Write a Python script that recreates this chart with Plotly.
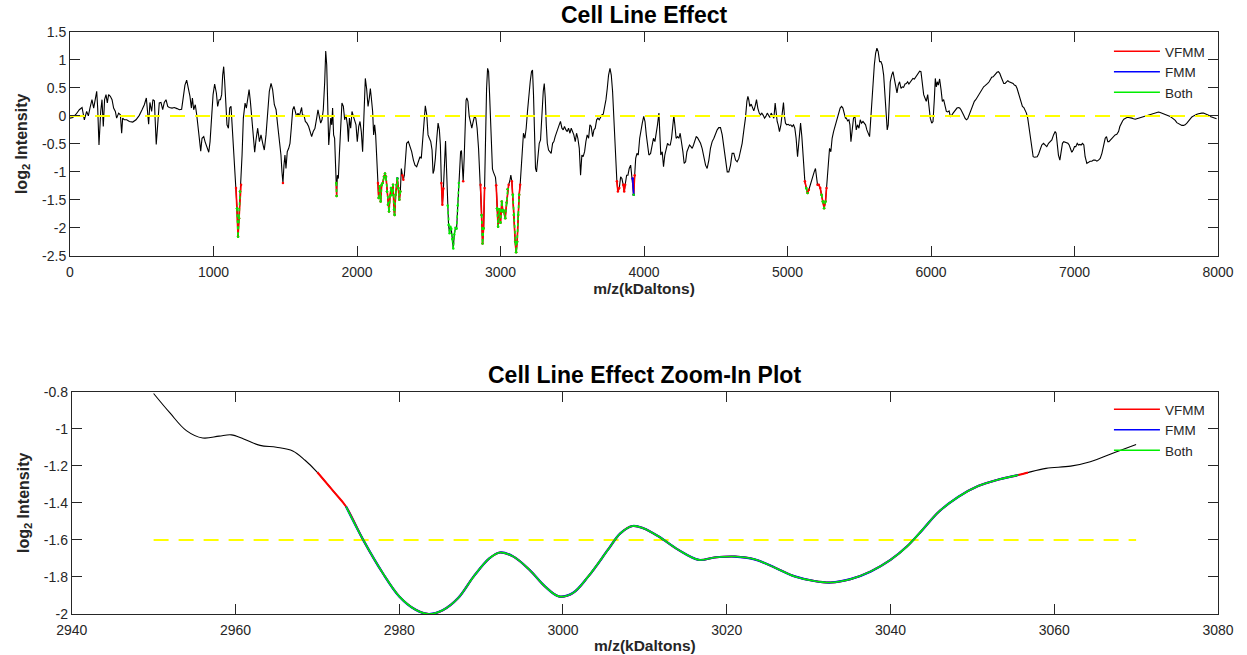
import plotly.graph_objects as go

# ---------------- data: full spectrum (top panel) ----------------
mz = [0, 19, 42, 65, 84, 100, 116, 128, 139, 153, 165, 177, 186, 193, 202, 214, 223, 232, 241, 251,
      260, 269, 281, 293, 304, 316, 325, 339, 351, 360, 367, 379, 395, 414, 437, 460, 483, 502, 518, 532,
      541, 548, 557, 569, 578, 588, 594, 601, 611, 622, 634, 646, 657, 669, 681, 692, 711, 727, 746, 762,
      778, 790, 801, 813, 825, 836, 846, 853, 862, 873, 883, 892, 901, 911, 920, 932, 941, 950, 960, 967,
      976, 985, 997, 1008, 1020, 1029, 1039, 1048, 1057, 1064, 1071, 1078, 1085, 1094, 1104, 1113, 1122, 1131, 1141, 1150,
      1157, 1164, 1171, 1178, 1185, 1192, 1199, 1208, 1220, 1229, 1239, 1248, 1257, 1266, 1278, 1287, 1296, 1308, 1320, 1331,
      1343, 1354, 1366, 1378, 1389, 1401, 1412, 1424, 1436, 1447, 1459, 1470, 1477, 1484, 1491, 1498, 1505, 1514, 1524, 1533,
      1542, 1552, 1561, 1570, 1579, 1589, 1598, 1607, 1614, 1621, 1630, 1640, 1651, 1663, 1675, 1684, 1695, 1707, 1719, 1728,
      1737, 1747, 1756, 1765, 1775, 1782, 1789, 1796, 1803, 1810, 1817, 1824, 1830, 1837, 1844, 1851, 1856, 1858, 1863, 1870,
      1877, 1886, 1895, 1905, 1914, 1923, 1933, 1940, 1947, 1956, 1965, 1975, 1984, 1993, 2002, 2012, 2021, 2030, 2039, 2049,
      2058, 2067, 2077, 2086, 2093, 2100, 2109, 2116, 2123, 2130, 2137, 2146, 2151, 2158, 2165, 2172, 2179, 2188, 2195, 2202,
      2209, 2216, 2223, 2230, 2237, 2244, 2251, 2258, 2262, 2269, 2276, 2281, 2288, 2295, 2302, 2309, 2316, 2323, 2330, 2337,
      2346, 2358, 2369, 2381, 2393, 2404, 2416, 2427, 2439, 2448, 2458, 2467, 2476, 2486, 2495, 2504, 2514, 2523, 2530, 2537,
      2546, 2556, 2565, 2574, 2581, 2588, 2595, 2602, 2609, 2617, 2624, 2632, 2638, 2645, 2651, 2657, 2664, 2671, 2678, 2686,
      2694, 2702, 2710, 2717, 2722, 2728, 2734, 2740, 2747, 2754, 2760, 2765, 2773, 2782, 2791, 2800, 2810, 2819, 2828, 2837,
      2847, 2854, 2861, 2868, 2875, 2882, 2889, 2896, 2903, 2910, 2917, 2924, 2931, 2938, 2944, 2950, 2958, 2965, 2970, 2976,
      2983, 2992, 3000, 3009, 3017, 3022, 3033, 3043, 3050, 3057, 3065, 3072, 3079, 3086, 3093, 3102, 3109, 3116, 3123, 3130,
      3137, 3144, 3151, 3160, 3170, 3179, 3188, 3198, 3207, 3216, 3223, 3230, 3237, 3244, 3251, 3260, 3270, 3279, 3288, 3298,
      3305, 3312, 3319, 3326, 3335, 3344, 3353, 3363, 3372, 3381, 3391, 3400, 3409, 3418, 3428, 3437, 3446, 3456, 3465, 3474,
      3484, 3493, 3502, 3511, 3521, 3530, 3539, 3549, 3558, 3567, 3576, 3586, 3595, 3604, 3614, 3623, 3632, 3642, 3651, 3660,
      3670, 3679, 3688, 3697, 3707, 3716, 3726, 3735, 3744, 3753, 3763, 3772, 3781, 3790, 3797, 3804, 3811, 3818, 3828, 3837,
      3846, 3855, 3862, 3869, 3879, 3888, 3897, 3907, 3914, 3921, 3928, 3935, 3942, 3951, 3960, 3970, 3979, 3988, 3998, 4007,
      4016, 4025, 4034, 4046, 4057, 4066, 4076, 4085, 4094, 4104, 4111, 4117, 4127, 4136, 4145, 4155, 4164, 4173, 4183, 4192,
      4201, 4208, 4215, 4224, 4234, 4243, 4252, 4262, 4271, 4280, 4290, 4299, 4308, 4317, 4327, 4336, 4345, 4355, 4364, 4373,
      4383, 4394, 4405, 4417, 4429, 4440, 4452, 4463, 4475, 4487, 4498, 4510, 4521, 4533, 4545, 4556, 4568, 4580, 4591, 4603,
      4614, 4626, 4638, 4649, 4661, 4672, 4684, 4696, 4707, 4717, 4724, 4730, 4737, 4747, 4756, 4765, 4775, 4784, 4793, 4803,
      4812, 4821, 4831, 4840, 4849, 4859, 4868, 4877, 4886, 4896, 4905, 4914, 4921, 4928, 4935, 4944, 4954, 4963, 4972, 4979,
      4986, 4995, 5005, 5014, 5023, 5032, 5042, 5051, 5060, 5070, 5079, 5091, 5100, 5107, 5114, 5121, 5130, 5140, 5149, 5158,
      5167, 5177, 5186, 5195, 5202, 5209, 5218, 5228, 5237, 5246, 5255, 5265, 5272, 5279, 5286, 5293, 5302, 5311, 5321, 5330,
      5339, 5349, 5358, 5367, 5377, 5386, 5395, 5404, 5410, 5419, 5428, 5435, 5442, 5451, 5460, 5470, 5479, 5488, 5498, 5507,
      5516, 5526, 5535, 5544, 5553, 5563, 5572, 5579, 5586, 5595, 5605, 5614, 5623, 5632, 5642, 5651, 5660, 5670, 5679, 5688,
      5695, 5702, 5709, 5716, 5726, 5735, 5744, 5753, 5763, 5772, 5781, 5791, 5800, 5809, 5819, 5828, 5837, 5846, 5856, 5865,
      5874, 5884, 5893, 5902, 5912, 5921, 5930, 5939, 5949, 5958, 5967, 5977, 5986, 5995, 6005, 6014, 6023, 6030, 6037, 6044,
      6051, 6060, 6070, 6079, 6088, 6098, 6107, 6116, 6126, 6135, 6144, 6154, 6163, 6172, 6181, 6191, 6200, 6209, 6219, 6228,
      6237, 6247, 6256, 6265, 6274, 6284, 6293, 6302, 6312, 6321, 6330, 6340, 6349, 6358, 6367, 6377, 6386, 6395, 6405, 6414,
      6423, 6433, 6442, 6451, 6460, 6470, 6479, 6488, 6498, 6507, 6516, 6526, 6535, 6544, 6553, 6563, 6572, 6581, 6591, 6600,
      6609, 6619, 6628, 6637, 6647, 6656, 6665, 6674, 6684, 6693, 6702, 6712, 6721, 6730, 6740, 6750, 6761, 6772, 6784, 6795,
      6807, 6819, 6830, 6842, 6854, 6865, 6872, 6879, 6888, 6898, 6907, 6916, 6925, 6935, 6944, 6954, 6963, 6972, 6981, 6991,
      7000, 7009, 7019, 7028, 7037, 7046, 7056, 7065, 7074, 7086, 7098, 7109, 7121, 7132, 7144, 7156, 7167, 7179, 7191, 7202,
      7214, 7223, 7232, 7240, 7251, 7260, 7272, 7283, 7295, 7307, 7316, 7325, 7335, 7344, 7353, 7365, 7376, 7388, 7400, 7411,
      7423, 7434, 7446, 7458, 7469, 7481, 7492, 7504, 7516, 7527, 7539, 7551, 7562, 7574, 7585, 7597, 7609, 7620, 7632, 7644,
      7655, 7667, 7678, 7690, 7702, 7713, 7725, 7737, 7748, 7760, 7771, 7783, 7795, 7806, 7818, 7830, 7841, 7853, 7864, 7876,
      7887, 7899, 7911, 7922, 7934, 7946, 7957, 7969, 7980, 7990]

log2_intensity = [-0.04, -0.03, 0.03, 0.11, 0.15, -0.07, 0.08, 0.0, 0.14, 0.29, 0.14, 0.32, 0.44, 0.14, -0.52, 0.08, 0.29, -0.19, 0.29, 0.38,
      0.23, 0.38, 0.35, 0.29, 0.14, 0.08, -0.04, 0.05, 0.02, -0.31, -0.04, -0.07, -0.07, -0.10, -0.11, -0.07, 0.01, 0.11, 0.20, 0.32,
      -0.01, -0.15, 0.24, 0.08, 0.29, 0.27, -0.10, -0.51, -0.16, 0.23, 0.24, 0.11, 0.24, 0.29, 0.17, 0.15, 0.14, 0.15, 0.13, 0.11,
      0.12, 0.38, 0.55, 0.64, 0.49, 0.35, 0.14, 0.32, 0.11, 0.20, 0.02, -0.16, -0.40, -0.63, -0.40, -0.37, -0.46, -0.52, -0.58, -0.65,
      -0.46, -0.04, 0.38, 0.57, 0.41, 0.17, 0.29, 0.29, 0.38, 0.73, 0.88, 0.61, 0.14, -0.16, -0.22, 0.14, 0.17, -0.22, -0.58, -0.82,
      -1.29, -1.65, -2.16, -1.83, -1.35, -1.23, -0.70, -0.04, 0.23, 0.14, 0.29, 0.47, 0.26, -0.04, -0.40, -0.65, -0.43, -0.22, -0.46, -0.34,
      -0.49, -0.61, -0.34, 0.08, 0.44, 0.58, 0.47, 0.20, 0.11, -0.16, -0.40, -0.70, -1.00, -1.20, -0.88, -0.70, -0.94, -0.64, -0.58, -0.49,
      -0.22, 0.11, 0.17, 0.05, -0.01, 0.05, -0.01, 0.08, 0.15, -0.01, 0.02, -0.10, -0.13, -0.19, -0.31, -0.37, -0.28, -0.22, -0.04, 0.11,
      -0.01, -0.13, -0.07, 0.11, 0.61, 1.16, 0.91, 0.08, -0.52, -0.28, -0.04, -0.16, 0.14, -0.34, -0.40, -0.91, -1.20, -1.43, -1.06, -1.12,
      -0.70, -0.10, 0.23, 0.17, -0.07, 0.02, -0.16, -0.46, -0.04, -0.22, 0.08, -0.01, -0.07, -0.16, -0.46, -0.19, -0.10, -0.28, -0.64, 0.02,
      0.67, 0.49, 0.17, 0.32, 0.49, 0.32, 0.08, -0.34, -0.16, -0.34, -0.82, -1.20, -1.47, -1.26, -1.53, -1.23, -1.20, -1.09, -1.03, -1.09,
      -1.35, -1.59, -1.71, -1.44, -1.29, -1.41, -1.23, -1.68, -1.77, -1.41, -1.23, -1.12, -1.29, -1.50, -1.35, -0.94, -1.06, -1.14, -1.06, -0.70,
      -0.49, -0.46, -0.55, -0.64, -0.79, -0.88, -0.91, -0.82, -0.73, -0.76, -0.40, 0.02, 0.18, 0.02, -0.34, -0.40, -0.46, -0.61, -1.03, -0.97,
      -0.76, -0.40, -0.13, -0.25, -0.52, -1.20, -1.59, -1.30, -0.90, -0.45, -0.95, -1.60, -1.95, -2.10, -1.98, -2.02, -2.20, -2.37, -2.12, -2.00,
      -2.02, -1.60, -1.20, -0.80, -0.64, -0.62, -0.84, -1.17, -0.75, -0.05, 0.28, 0.32, 0.26, -0.01, -0.13, -0.22, -0.10, -0.01, -0.04, -0.22,
      -0.58, -0.94, -1.23, -1.77, -2.28, -2.01, -1.29, -0.22, 0.49, 0.85, 0.79, 0.38, -0.22, -0.70, -0.95, -1.00, -1.04, -1.10, -1.24, -1.65,
      -1.98, -1.67, -1.91, -1.53, -1.71, -1.69, -1.83, -1.55, -1.31, -1.23, -1.16, -1.06, -1.17, -1.41, -1.77, -2.25, -2.44, -2.25, -1.77, -1.41,
      -1.23, -0.94, -0.58, -0.31, -0.40, -0.22, 0.08, 0.44, 0.61, 0.79, 0.82, 0.38, -0.28, -0.94, -1.00, -0.70, -0.49, -0.43, 0.08, 0.44,
      0.58, 0.32, -0.16, -0.49, -0.61, -0.64, -0.67, -0.49, -0.46, -0.37, -0.28, -0.22, -0.16, -0.10, -0.22, -0.25, -0.19, -0.25, -0.28, -0.22,
      -0.31, -0.22, -0.28, -0.34, -0.46, -0.31, -0.40, -0.58, -1.06, -0.70, -0.73, -0.64, -0.46, -0.34, -0.40, -0.16, -0.19, -0.37, -0.25, -0.22,
      -0.07, -0.04, -0.07, -0.01, 0.02, 0.03, 0.14, 0.29, 0.49, 0.73, 0.85, 0.73, 0.44, -0.04, -0.52, -0.94, -1.17, -1.35, -1.29, -1.09,
      -1.12, -1.23, -1.35, -1.23, -1.06, -1.06, -0.94, -0.88, -1.06, -1.12, -1.41, -1.06, -0.76, -0.67, -0.70, -0.40, -0.22, -0.13, -0.01, -0.10,
      -0.34, -0.58, -0.70, -0.67, -0.49, -0.40, -0.46, -0.34, -0.16, 0.05, -0.28, -0.70, -0.64, -0.91, -0.70, -0.58, -0.49, -0.52, -0.52, -0.40,
      -0.22, 0.01, -0.16, -0.40, -0.37, -0.40, -0.31, -0.46, -0.64, -0.85, -0.82, -0.64, -0.58, -0.52, -0.55, -0.58, -0.52, -0.43, -0.37, -0.39,
      -0.43, -0.49, -0.58, -0.73, -0.88, -0.94, -0.79, -0.58, -0.46, -0.40, -0.31, -0.25, -0.21, -0.21, -0.34, -0.55, -0.79, -1.00, -1.00, -0.88,
      -0.67, -0.67, -0.79, -0.82, -0.76, -0.64, -0.49, -0.25, -0.04, 0.26, 0.35, 0.29, 0.17, 0.21, 0.14, 0.09, 0.18, 0.29, 0.14, 0.05,
      0.02, 0.05, 0.01, -0.04, -0.01, 0.05, 0.01, -0.03, 0.05, 0.01, -0.04, 0.23, 0.01, -0.10, -0.16, -0.28, -0.16, 0.02, 0.24, -0.01,
      -0.13, -0.16, -0.15, -0.17, -0.16, -0.19, -0.16, -0.22, -0.40, -0.73, -0.43, -0.13, -0.37, -0.64, -1.03, -1.17, -1.29, -1.38, -1.32, -1.23,
      -1.17, -1.09, -1.00, -0.94, -1.12, -1.23, -1.23, -1.29, -1.41, -1.53, -1.65, -1.53, -1.29, -0.94, -0.70, -0.58, -0.64, -0.40, -0.28, -0.19,
      -0.13, -0.04, 0.05, 0.14, 0.17, 0.14, 0.05, -0.04, -0.04, -0.09, -0.07, -0.16, -0.46, -0.22, -0.04, -0.01, -0.25, -0.16, -0.22, -0.07,
      -0.13, -0.10, -0.13, -0.16, -0.25, -0.31, -0.37, -0.10, 0.20, 0.55, 0.91, 1.12, 1.21, 1.15, 0.97, 0.97, 0.91, 0.73, 0.38, 0.02,
      -0.25, -0.16, 0.38, 0.61, 0.73, 0.79, 0.67, 0.55, 0.41, 0.55, 0.61, 0.49, 0.52, 0.51, 0.57, 0.58, 0.61, 0.57, 0.61, 0.64,
      0.67, 0.66, 0.70, 0.73, 0.78, 0.80, 0.79, 0.61, 0.38, 0.32, 0.26, 0.38, 0.20, -0.04, -0.13, -0.10, 0.29, 0.67, 0.52, 0.61,
      0.55, 0.66, 0.47, 0.26, 0.29, 0.17, 0.08, 0.07, 0.09, -0.01, 0.01, 0.05, 0.08, 0.11, 0.14, 0.15, 0.14, 0.11, 0.07, 0.01,
      -0.04, -0.07, -0.05, 0.01, 0.08, 0.15, 0.21, 0.26, 0.29, 0.33, 0.38, 0.41, 0.45, 0.49, 0.52, 0.54, 0.57, 0.58, 0.61, 0.66,
      0.69, 0.70, 0.73, 0.76, 0.78, 0.79, 0.76, 0.70, 0.64, 0.58, 0.58, 0.61, 0.63, 0.61, 0.60, 0.60, 0.58, 0.55, 0.54, 0.49,
      0.41, 0.32, 0.23, 0.17, 0.15, 0.11, 0.05, -0.04, -0.22, -0.46, -0.64, -0.73, -0.74, -0.74, -0.73, -0.68, -0.58, -0.52, -0.49, -0.52,
      -0.55, -0.49, -0.46, -0.43, -0.34, -0.28, -0.31, -0.46, -0.70, -0.79, -0.64, -0.49, -0.46, -0.47, -0.47, -0.49, -0.52, -0.59, -0.65, -0.61,
      -0.55, -0.55, -0.49, -0.52, -0.51, -0.52, -0.49, -0.52, -0.73, -0.85, -0.82, -0.81, -0.81, -0.79, -0.79, -0.81, -0.79, -0.76, -0.67, -0.55,
      -0.40, -0.37, -0.46, -0.46, -0.43, -0.40, -0.37, -0.34, -0.33, -0.28, -0.19, -0.13, -0.09, -0.06, -0.04, -0.03, -0.03, -0.03, -0.04, -0.05,
      -0.06, -0.05, -0.04, -0.03, -0.02, -0.01, -0.01, 0.01, 0.02, 0.03, 0.04, 0.05, 0.05, 0.06, 0.07, 0.06, 0.05, 0.04, 0.03, 0.02,
      0.01, -0.01, -0.03, -0.05, -0.08, -0.12, -0.14, -0.16, -0.17, -0.17, -0.16, -0.13, -0.09, -0.05, -0.02, 0.00, 0.02, 0.03, 0.04, 0.05,
      0.05, 0.05, 0.04, 0.03, 0.01, -0.01, -0.02, -0.03, -0.04, -0.05]

# m/z ranges flagged by each method (top panel)
vfmm_ranges = [(1155, 1195), (1482, 1486), (1854, 1860), (2144, 2302), (2316, 2325), (2586, 2604),
               (2738, 2742), (2859, 2890), (2968, 3057), (3077, 3139), (3811, 3828), (3855, 3869),
               (3921, 3935), (5119, 5150), (5207, 5274)]
fmm_ranges = [(2279, 2283), (3919, 3930)]
both_ranges = [(1162, 1188), (1856, 1860), (2149, 2302), (2630, 2712), (2866, 2886), (2975, 3050),
               (3084, 3132), (3926, 3932), (5130, 5145), (5235, 5268)]
threshold_full = 0.0

# ---------------- data: zoom-in (bottom panel) ----------------
mz_zoom = [2950, 2952, 2954, 2956, 2958, 2959.5, 2961, 2963, 2965, 2967, 2968.5, 2970, 2972, 2973.5, 2975.6,
           2978, 2980, 2982, 2983.6, 2985.3, 2987.2, 2989.1, 2991, 2992.3, 2993.9, 2995.9, 2997.8, 2999.5,
           3001.2, 3003.1, 3005.5, 3007, 3008.5, 3009.8, 3011.7, 3014.1, 3016.6, 3018.5, 3021, 3023.4, 3025.9,
           3028.3, 3030.7, 3032.7, 3035.1, 3037.6, 3040, 3042, 3043.9, 3045.9, 3048.3, 3050.7, 3053.2, 3055.6,
           3056.8, 3059, 3062, 3064.4, 3067.3, 3070]
log2_zoom = [-0.81, -0.915, -1.01, -1.05, -1.04, -1.033, -1.055, -1.09, -1.10, -1.12, -1.17, -1.235, -1.34, -1.42, -1.60,
             -1.78, -1.905, -1.977, -2.0, -1.98, -1.914, -1.797, -1.70, -1.668, -1.689, -1.761, -1.851, -1.905,
             -1.887, -1.797, -1.653, -1.565, -1.525, -1.537, -1.582, -1.654, -1.708, -1.695, -1.690, -1.705, -1.750,
             -1.797, -1.822, -1.830, -1.812, -1.770, -1.708, -1.636, -1.546, -1.448, -1.367, -1.309, -1.274, -1.250,
             -1.236, -1.214, -1.202, -1.178, -1.130, -1.085]
vfmm_zoom_ranges = [(2970, 3056.8)]
fmm_zoom_ranges = [(2973.5, 3055.6)]
both_zoom_ranges = [(2973.5, 3055.6)]
threshold_zoom = -1.6

# tick labels
x_full_ticks = [0, 1000, 2000, 3000, 4000, 5000, 6000, 7000, 8000]
y_full_ticks = [1.5, 1, 0.5, 0, -0.5, -1, -1.5, -2, -2.5]
y_full_labels = ["1.5", "1", "0.5", "0", "-0.5", "-1", "-1.5", "-2", "-2.5"]
x_zoom_ticks = [2940, 2960, 2980, 3000, 3020, 3040, 3060, 3080]
y_zoom_ticks = [-0.8, -1, -1.2, -1.4, -1.6, -1.8, -2]
y_zoom_labels = ["-0.8", "-1", "-1.2", "-1.4", "-1.6", "-1.8", "-2"]

COL = {"VFMM": "#ff0000", "FMM": "#0000ff", "Both": "#00ee00"}
FONT = "Liberation Sans, Arial, Helvetica, sans-serif"
AXC = "#262626"


def segments(xs, ys, ranges):
    """Return x/y with None breaks containing the points inside each range."""
    ox, oy = [], []
    for lo, hi in ranges:
        for x, y in zip(xs, ys):
            if lo <= x <= hi:
                ox.append(x)
                oy.append(y)
        ox.append(None)
        oy.append(None)
    return ox, oy


fig = go.Figure()

# ---- top panel ----
fig.add_trace(go.Scatter(x=mz, y=log2_intensity, mode="lines", line=dict(color="black", width=1.1),
                         showlegend=False, hoverinfo="skip", xaxis="x", yaxis="y"))
fig.add_trace(go.Scatter(x=[0, 8000], y=[threshold_full, threshold_full], mode="lines",
                         line=dict(color="#ffff00", width=2, dash="15px,10px"),
                         showlegend=False, hoverinfo="skip", xaxis="x", yaxis="y"))
for name, rng, dash in (("VFMM", vfmm_ranges, "solid"), ("FMM", fmm_ranges, "solid"), ("Both", both_ranges, "dot")):
    sx, sy = segments(mz, log2_intensity, rng)
    fig.add_trace(go.Scatter(x=sx, y=sy, mode="lines+markers", connectgaps=False,
                             line=dict(color=COL[name], width=1.6, dash=dash),
                             marker=dict(color=COL[name], size=2.5),
                             showlegend=False, xaxis="x", yaxis="y"))
for name in ("VFMM", "FMM", "Both"):
    fig.add_trace(go.Scatter(x=[None], y=[None], mode="lines", name=name,
                             line=dict(color=COL[name], width=1.5), legend="legend",
                             xaxis="x", yaxis="y"))

# ---- bottom panel ----
fig.add_trace(go.Scatter(x=mz_zoom, y=log2_zoom, mode="lines", line=dict(color="black", width=1.1, shape="spline"),
                         showlegend=False, hoverinfo="skip", xaxis="x2", yaxis="y2"))
fig.add_trace(go.Scatter(x=[mz_zoom[0], mz_zoom[-1]], y=[threshold_zoom, threshold_zoom], mode="lines",
                         line=dict(color="#ffff00", width=2, dash="15px,10px"),
                         showlegend=False, hoverinfo="skip", xaxis="x2", yaxis="y2"))
for name, rng, w in (("VFMM", vfmm_zoom_ranges, 2.0), ("FMM", fmm_zoom_ranges, 2.2), ("Both", both_zoom_ranges, 1.6)):
    sx, sy = segments(mz_zoom, log2_zoom, rng)
    fig.add_trace(go.Scatter(x=sx, y=sy, mode="lines", line=dict(color=COL[name], width=w, shape="spline"),
                             showlegend=False, xaxis="x2", yaxis="y2"))
for name in ("VFMM", "FMM", "Both"):
    fig.add_trace(go.Scatter(x=[None], y=[None], mode="lines", name=name,
                             line=dict(color=COL[name], width=1.5), legend="legend2",
                             xaxis="x2", yaxis="y2"))

axis_common = dict(showline=True, linecolor=AXC, linewidth=1, mirror="allticks", ticks="inside",
                   ticklen=10, tickcolor=AXC, tickwidth=1, showgrid=False, zeroline=False,
                   automargin=False, tickfont=dict(family=FONT, size=14, color=AXC))
xaxis_extra = dict(ticklabelstandoff=3)
xtitle_font = dict(family=FONT, size=15.5, color=AXC)
ytitle_font = dict(family=FONT, size=16, color=AXC)

fig.update_layout(
    width=1247, height=655,
    margin=dict(l=70, r=29, t=32, b=41, autoexpand=False),
    paper_bgcolor="white", plot_bgcolor="white",
    font=dict(family=FONT, color=AXC),
    xaxis=dict(domain=[0, 1], range=[0, 8000], tickvals=x_full_ticks, anchor="y",
               title=dict(text="<b>m/z(kDaltons)</b>", font=xtitle_font, standoff=3), **axis_common, **xaxis_extra),
    yaxis=dict(domain=[0.6156, 1], range=[-2.5, 1.5], tickvals=y_full_ticks, ticktext=y_full_labels, anchor="x",
               title=dict(text="<b>log<sub>2</sub> Intensity</b>", font=ytitle_font, standoff=10), **axis_common),
    xaxis2=dict(domain=[0.0015, 1], range=[2940, 3080], tickvals=x_zoom_ticks, anchor="y2",
                title=dict(text="<b>m/z(kDaltons)</b>", font=xtitle_font, standoff=3), **axis_common, **xaxis_extra),
    yaxis2=dict(domain=[0, 0.382], range=[-2, -0.8], tickvals=y_zoom_ticks, ticktext=y_zoom_labels, anchor="x2",
                title=dict(text="<b>log<sub>2</sub> Intensity</b>", font=ytitle_font, standoff=10), **axis_common),
    legend=dict(x=0.905, xanchor="left", y=0.9313, yanchor="middle", bgcolor="rgba(0,0,0,0)",
                font=dict(family=FONT, size=13.5, color=AXC), tracegroupgap=0, itemwidth=46),
    legend2=dict(x=0.905, xanchor="left", y=0.3162, yanchor="middle", bgcolor="rgba(0,0,0,0)",
                 font=dict(family=FONT, size=13.5, color=AXC), tracegroupgap=0, itemwidth=46),
    annotations=[
        dict(text="<b>Cell Line Effect</b>", xref="paper", yref="paper", x=0.5, y=1.0292,
             xanchor="center", yanchor="middle", showarrow=False,
             font=dict(family=FONT, size=23, color="black")),
        dict(text="<b>Cell Line Effect Zoom-In Plot</b>", xref="paper", yref="paper", x=0.5, y=0.4107,
             xanchor="center", yanchor="middle", showarrow=False,
             font=dict(family=FONT, size=23, color="black")),
    ],
)

# remove the page's default body margin so the figure fills the window exactly
fig.write_html("out.html", config={"displayModeBar": False},
               post_script="document.body.style.margin='0';document.documentElement.style.overflow='hidden';")
